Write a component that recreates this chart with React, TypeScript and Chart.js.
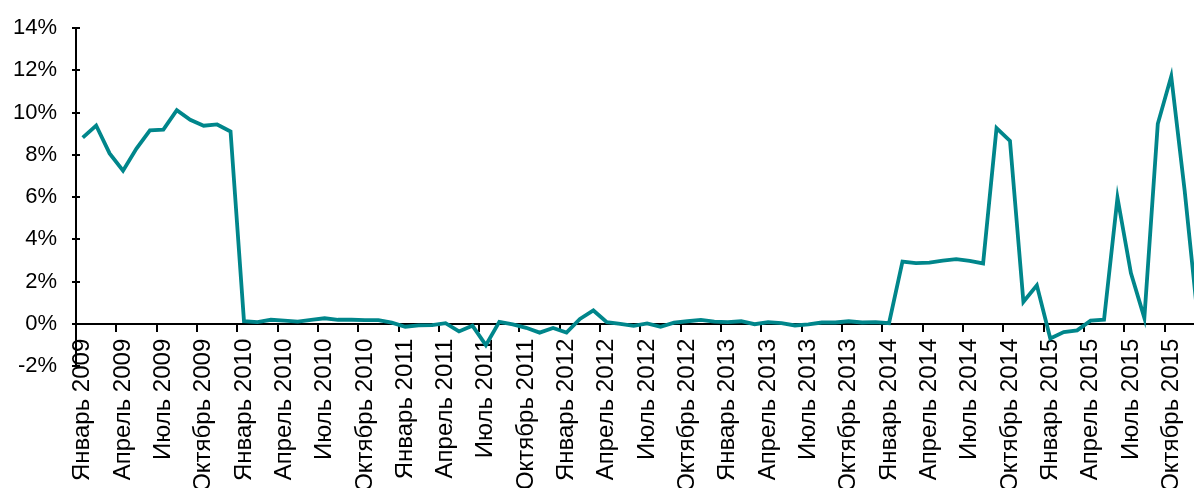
import { useEffect, useRef } from 'react';
import { Chart, registerables } from 'chart.js';

Chart.register(...registerables);

// Month names used for the category labels
const MONTHS = [
  'Январь', 'Февраль', 'Март', 'Апрель', 'Май', 'Июнь',
  'Июль', 'Август', 'Сентябрь', 'Октябрь', 'Ноябрь', 'Декабрь',
];
const YEARS = [2009, 2010, 2011, 2012, 2013, 2014, 2015];

// Monthly values, %
const RATE_2009 = [8.82, 9.39, 8.07, 7.25, 8.3, 9.16, 9.2, 10.12, 9.66, 9.38, 9.44, 9.11];
const RATE_2010 = [0.12, 0.08, 0.19, 0.15, 0.1, 0.19, 0.26, 0.19, 0.19, 0.17, 0.17, 0.05];
const RATE_2011 = [-0.14, -0.08, -0.06, 0.03, -0.36, -0.09, -1.01, 0.09, -0.03, -0.19, -0.42, -0.2];
const RATE_2012 = [-0.42, 0.23, 0.63, 0.08, 0.0, -0.1, 0.02, -0.14, 0.05, 0.12, 0.18, 0.1];
const RATE_2013 = [0.08, 0.12, -0.02, 0.08, 0.03, -0.08, -0.03, 0.06, 0.06, 0.12, 0.06, 0.08];
const RATE_2014 = [0.03, 2.95, 2.87, 2.9, 2.99, 3.06, 2.98, 2.86, 9.27, 8.66, 1.04, 1.82];
const RATE_2015 = [-0.7, -0.39, -0.31, 0.15, 0.19, 5.97, 2.4, 0.28, 9.47, 11.72, 6.3, 0.1];

// Y axis range and step, %
const Y_MIN = -2;
const Y_MAX = 14;
const Y_STEP = 2;

// Every third month carries a label
const LABEL_EVERY = 3;

const CATEGORIES = YEARS.flatMap((y) => MONTHS.map((m) => `${m} ${y}`));
const VALUES = [
  ...RATE_2009, ...RATE_2010, ...RATE_2011, ...RATE_2012,
  ...RATE_2013, ...RATE_2014, ...RATE_2015,
];

const FAMILY = "'Liberation Sans', Arial, sans-serif";
const LINE_COLOR = '#00868b';

// Small tick stubs on the inner side of the value axis
const innerTicks = {
  id: 'innerTicks',
  afterDraw(chart: any) {
    const { ctx, chartArea, scales } = chart;
    const y = scales.y;
    ctx.save();
    ctx.strokeStyle = '#000';
    ctx.lineWidth = 2;
    y.ticks.forEach((t: any) => {
      const py = Math.round(y.getPixelForValue(t.value));
      ctx.beginPath();
      ctx.moveTo(chartArea.left, py);
      ctx.lineTo(chartArea.left + 4, py);
      ctx.stroke();
    });
    ctx.restore();
  },
};

export default function App() {
  const canvasRef = useRef<HTMLCanvasElement | null>(null);

  useEffect(() => {
    const canvas = canvasRef.current;
    if (!canvas) return;
    const chart = new Chart(canvas, {
      type: 'line',
      data: {
        labels: CATEGORIES,
        datasets: [
          {
            data: VALUES,
            borderColor: LINE_COLOR,
            borderWidth: 3.8,
            pointRadius: 0,
            tension: 0,
            fill: false,
          },
        ],
      },
      options: {
        responsive: false,
        animation: false,
        devicePixelRatio: 1,
        layout: { padding: { top: 23, right: 15, bottom: 134, left: 0 } },
        plugins: { legend: { display: false }, tooltip: { enabled: false } },
        scales: {
          x: {
            type: 'category',
            position: { y: 0 } as any,
            offset: true,
            grid: {
              display: true,
              drawOnChartArea: false,
              drawTicks: true,
              tickLength: 7,
              offset: true,
              lineWidth: 2,
              color: (c: any) => (c.index % LABEL_EVERY === 0 ? '#000' : 'rgba(0,0,0,0)'),
            },
            border: { display: true, color: '#000', width: 2 },
            ticks: {
              autoSkip: false,
              minRotation: 90,
              maxRotation: 90,
              padding: 8,
              color: '#000',
              font: { family: FAMILY, size: 24 },
              callback: (_v: any, i: number) => (i % LABEL_EVERY === 0 ? CATEGORIES[i] : ''),
            },
          },
          y: {
            min: Y_MIN,
            max: Y_MAX,
            afterFit: (s: any) => {
              s.width = 76;
            },
            grid: {
              display: true,
              drawOnChartArea: false,
              drawTicks: true,
              tickLength: 4,
              lineWidth: 2,
              color: '#000',
            },
            border: { display: true, color: '#000', width: 2 },
            ticks: {
              stepSize: Y_STEP,
              padding: 15,
              color: '#000',
              font: { family: FAMILY, size: 22 },
              callback: (v: any) => `${v}%`,
            },
          },
        },
      },
      plugins: [innerTicks],
    });
    return () => chart.destroy();
  }, []);

  return (
    <div
      style={{
        position: 'fixed',
        left: 0,
        top: 0,
        width: 1194,
        height: 488,
        overflow: 'hidden',
        background: '#fff',
      }}
    >
      <canvas ref={canvasRef} width={1235} height={500} style={{ display: 'block' }} />
    </div>
  );
}
